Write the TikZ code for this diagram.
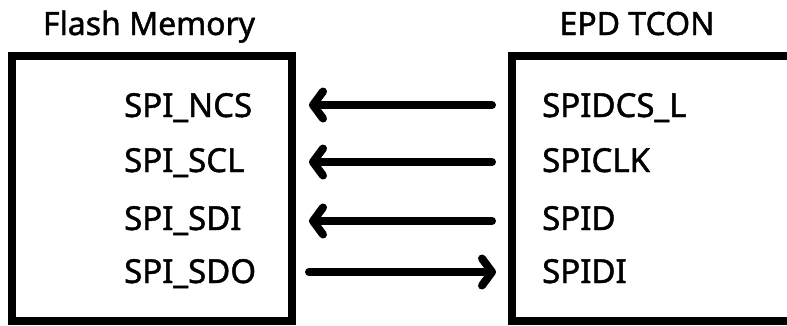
\documentclass[tikz,border=0pt]{standalone}
\usepackage{fontspec}
\setmainfont{Noto Sans}[BoldFont={Noto Sans},BoldFeatures={FakeBold=1.4}]
\usepackage{tikz}
\usetikzlibrary{arrows.meta}

\begin{document}
\begin{tikzpicture}[x=1pt,y=-1pt,
		box/.style={draw,line width=8pt,minimum width=280pt,minimum height=265pt,inner sep=0pt},
		title/.style={anchor=base,inner sep=0pt,font=\fontsize{32}{38}\selectfont\bfseries},
		pin/.style={anchor=base west,inner sep=0pt,font=\fontsize{33}{40}\selectfont\bfseries},
		sig/.style={line width=8pt,line cap=round,-{Straight Barb[round,length=10pt,width=27pt]}}]
		\useasboundingbox (0,0) rectangle (787,325);
		\clip (0,0) rectangle (787,325);
		%the two chips
		\node [box] (flash) at (152,188.5) {};
		\node [box,minimum width=288pt] (tcon) at (656,188.5) {};
		\node [title] (flashname) at (149,35) {Flash Memory};
		\node [title] (tconname) at (637,35) {EPD TCON};
		%pins of the flash memory
		\node [pin] (ncs) at (124,117) {SPI\_NCS};
		\node [pin] (scl) at (124,172) {SPI\_SCL};
		\node [pin] (sdi) at (124,230) {SPI\_SDI};
		\node [pin] (sdo) at (124,283) {SPI\_SDO};
		%pins of the tcon
		\node [pin] (dcs) at (542,117) {SPIDCS\_L};
		\node [pin] (clk) at (542,172) {SPICLK};
		\node [pin] (spid) at (542,230) {SPID};
		\node [pin] (spidi) at (542,283) {SPIDI};
		%signals
		\coordinate (r1) at (0,105);
		\coordinate (r2) at (0,162);
		\coordinate (r3) at (0,221);
		\coordinate (r4) at (0,272);
		\draw [sig] ([xshift=-16pt]tcon.west |- r1) -- ([xshift=13pt]flash.east |- r1);
		\draw [sig] ([xshift=-16pt]tcon.west |- r2) -- ([xshift=13pt]flash.east |- r2);
		\draw [sig] ([xshift=-16pt]tcon.west |- r3) -- ([xshift=13pt]flash.east |- r3);
		\draw [sig] ([xshift=13pt]flash.east |- r4) -- ([xshift=-12pt]tcon.west |- r4);
\end{tikzpicture}
\end{document}
